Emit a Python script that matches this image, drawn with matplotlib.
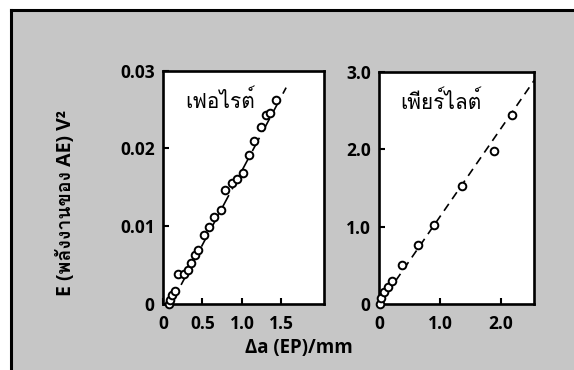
import matplotlib
matplotlib.use("Agg")
import matplotlib.pyplot as plt
from matplotlib import font_manager
from matplotlib.ft2font import FT2Font
from matplotlib.patches import Rectangle
from matplotlib.lines import Line2D

# ferrite panel (left)
ferrite_x = [0.07, 0.09, 0.11, 0.15, 0.19, 0.27, 0.32, 0.35, 0.40, 0.44, 0.52, 0.58,
             0.65, 0.73, 0.78, 0.87, 0.94, 1.01, 1.09, 1.15, 1.24, 1.30, 1.35, 1.43]
ferrite_y = [0.0, 0.0005, 0.0011, 0.0017, 0.0039, 0.0039, 0.0044, 0.0053, 0.0063, 0.0069,
             0.0089, 0.0099, 0.0112, 0.0121, 0.0146, 0.0155, 0.0160, 0.0168, 0.0192,
             0.0210, 0.0227, 0.0243, 0.0245, 0.0262]
ferrite_fit_x = [0.10, 1.56]
ferrite_fit_y = [0.0, 0.0278]

# pearlite panel (right)
pearlite_x = [0.0, 0.03, 0.08, 0.14, 0.21, 0.37, 0.63, 0.90, 1.36, 1.89, 2.18]
pearlite_y = [0.0, 0.08, 0.16, 0.22, 0.30, 0.50, 0.76, 1.02, 1.52, 1.98, 2.44]
pearlite_fit_x = [0.0, 2.56]
pearlite_fit_y = [0.0, 2.90]

ferrite_yticks = [0, 0.01, 0.02, 0.03]
ferrite_ylabels = ["0", "0.01", "0.02", "0.03"]
ferrite_xticks = [0, 0.5, 1.0, 1.5]
ferrite_xlabels = ["0", "0.5", "1.0", "1.5"]
pearlite_yticks = [0, 1.0, 2.0, 3.0]
pearlite_ylabels = ["0", "1.0", "2.0", "3.0"]
pearlite_xticks = [0, 1.0, 2.0]
pearlite_xlabels = ["0", "1.0", "2.0"]


def thai_font():
    # first installed family that has Thai glyphs (Loma here)
    for name in ["Loma", "Garuda", "Norasi", "Kinnari"]:
        try:
            font_manager.findfont(name, fallback_to_default=False)
            return name
        except ValueError:
            pass
    for entry in font_manager.fontManager.ttflist:
        try:
            cmap = FT2Font(entry.fname).get_charmap()
        except Exception:
            continue
        if 0x0E40 in cmap and 0x0E1F in cmap:
            return entry.name
    return "DejaVu Sans"


thai_family = thai_font()
families = ["Open Sans", thai_family, "DejaVu Sans"]

W, H = 574, 370
fig = plt.figure(figsize=(W / 100, H / 100), dpi=100, facecolor="white")

# scanned gray page with black frame on top and left
fig.add_artist(Rectangle((11 / W, 0), 1 - 11 / W, 1 - 10 / H, transform=fig.transFigure,
                         facecolor="#c6c6c6", edgecolor="none", zorder=0))
fig.add_artist(Line2D([11 / W, 1], [1 - 10 / H, 1 - 10 / H], transform=fig.transFigure,
                      color="black", lw=2.2, zorder=1))
fig.add_artist(Line2D([11 / W, 11 / W], [0, 1 - 10 / H], transform=fig.transFigure,
                      color="black", lw=2.2, zorder=1))

ax1 = fig.add_axes([163 / W, 1 - 304 / H, 161 / W, 233.5 / H])
ax2 = fig.add_axes([379 / W, 1 - 304 / H, 155 / W, 232 / H])

panels = [
    (ax1, ferrite_x, ferrite_y, ferrite_fit_x, ferrite_fit_y, (0, 2.04), (0, 0.03),
     ferrite_xticks, ferrite_xlabels, ferrite_yticks, ferrite_ylabels, "เฟอไรต์", (9, 4)),
    (ax2, pearlite_x, pearlite_y, pearlite_fit_x, pearlite_fit_y, (-0.01, 2.55), (0, 3.0),
     pearlite_xticks, pearlite_xlabels, pearlite_yticks, pearlite_ylabels, "เพียร์ไลต์", (5, 3.5)),
]

for (ax, xs, ys, fx, fy, xlim, ylim, xt, xl, yt, yl, name, dash) in panels:
    ax.set_facecolor("white")
    ax.plot(fx, fy, color="black", lw=1.2, dashes=dash, zorder=2)
    ax.plot(xs, ys, linestyle="none", marker="o", ms=5.5, mfc="white", mec="black",
            mew=1.4, clip_on=False, zorder=3)
    ax.set_xlim(*xlim)
    ax.set_ylim(*ylim)
    ax.set_xticks(xt)
    ax.set_xticklabels(xl)
    ax.set_yticks(yt)
    ax.set_yticklabels(yl)
    ax.tick_params(direction="in", length=4.5, width=1.5, pad=6)
    ax.tick_params(axis="x", pad=8)
    for lab in ax.get_xticklabels() + ax.get_yticklabels():
        lab.set_family(families)
        lab.set_fontweight("bold")
        lab.set_fontsize(12.5)
    for sp in ax.spines.values():
        sp.set_linewidth(1.9)
    ax.text(0.14, 0.87, name, transform=ax.transAxes, fontsize=15,
            family=[thai_family, "DejaVu Sans"], ha="left", va="center")

fig.text(66 / W, 1 - 203 / H, "E (พลังงานของ AE) V²", rotation=90, ha="center",
         va="center", fontsize=14, fontweight="bold", family=families)
fig.text(299 / W, 1 - 348 / H, "Δa (EP)/mm", ha="center", va="center",
         fontsize=13.5, fontweight="bold", family=families)

fig.savefig("out.png", dpi=100, facecolor=fig.get_facecolor())
